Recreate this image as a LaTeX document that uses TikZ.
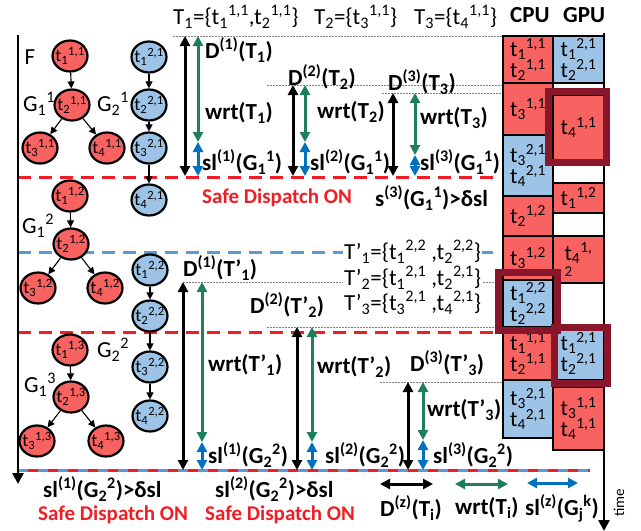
\documentclass[tikz,border=0pt]{standalone}
\usepackage{fontspec}
\setmainfont{Carlito}
\usetikzlibrary{arrows.meta,shapes.geometric}

\definecolor{taskred}{RGB}{248,98,96}
\definecolor{taskblue}{RGB}{157,195,230}
\definecolor{framered}{RGB}{137,22,42}
\definecolor{wrtgreen}{RGB}{30,128,90}
\definecolor{slblue}{RGB}{0,112,192}
\definecolor{cutblue}{RGB}{91,155,213}
\definecolor{safered}{RGB}{240,30,36}

\newcommand{\tsk}[2]{t\textsubscript{#1}\textsuperscript{#2}}
\newcommand{\ttask}[2]{\makebox[0pt]{\tsk{#1}{#2}}}

\tikzset{
	task/.style={ellipse, draw, line width=2.2pt, minimum width=35pt, minimum height=31pt, inner sep=0pt, font=\fontsize{18}{18}\selectfont},
	redtask/.style={task, fill=taskred},
	bluetask/.style={task, fill=taskblue},
	dep/.style={-{Triangle[width=7pt,length=7pt]}, line width=1.1pt},
	redslot/.style={draw, line width=2pt, fill=taskred},
	blueslot/.style={draw, line width=2pt, fill=taskblue},
	slottext/.style={align=center, inner sep=0pt, font=\fontsize{22}{21}\selectfont},
	lbl/.style={inner sep=0pt, anchor=west, font=\fontsize{23}{24}\selectfont\bfseries},
	safe/.style={lbl, text=safered, font=\fontsize{21}{22}\selectfont\bfseries},
	setlbl/.style={inner sep=0pt, anchor=west, font=\fontsize{23}{24}\selectfont},
	primelbl/.style={inner sep=1pt, anchor=west, fill=white, font=\fontsize{23}{23}\selectfont},
	glbl/.style={inner sep=0pt, font=\fontsize{23}{24}\selectfont},
	span/.style={{Triangle[width=10pt,length=10pt]}-{Triangle[width=10pt,length=10pt]}, line width=3pt},
	guide/.style={gray, line width=0.7pt, dash pattern=on 1.5pt off 1.5pt},
	redcut/.style={safered, line width=3pt, dash pattern=on 13pt off 8pt},
	bluecut/.style={cutblue, line width=3pt, dash pattern=on 13pt off 8pt},
	hilite/.style={draw=framered, line width=7pt}
}

\begin{document}
\begin{tikzpicture}[x=1pt,y=-1pt]
	\useasboundingbox (0,0) rectangle (641,531);

	%guide lines
	\draw[guide] (173,36) -- (503,36);
	\draw[guide] (267,85) -- (503,85);
	\draw[guide] (382,93) -- (553,93);
	\draw[guide] (183,282) -- (503,282);
	\draw[guide] (267,327) -- (503,327);
	\draw[guide] (380,382) -- (503,382);

	%cuts
	\draw[redcut] (18,177) -- (500,177);
	\draw[bluecut] (18,252) -- (500,252);
	\draw[redcut] (18,332) -- (500,332);
	\draw[cutblue, line width=3pt, dash pattern=on 10pt off 10pt] (18,470) -- (590,470);
	\draw[safered, line width=3pt, dash pattern=on 10pt off 10pt, dash phase=10pt] (18,470) -- (590,470);

	%axes
	\draw[line width=2.6pt, -{Triangle[width=11pt,length=11pt]}] (18,35) -- (18,484);
	\draw[line width=2.6pt, -{Triangle[width=11pt,length=11pt]}] (604,33) -- (604,531);
	\node[inner sep=0pt, rotate=90, font=\fontsize{15}{15}\selectfont] (timelbl) at (619,503) {time};

	%cpu column
	\draw[redslot] (503,36) rectangle (553,83) node[pos=.5, slottext] (cpuA) {\tsk{1}{1,1}\\\tsk{2}{1,1}};
	\draw[redslot] (503,83) rectangle (553,135) node[pos=.5, slottext] (cpuB) {\tsk{3}{1,1}};
	\draw[blueslot] (503,135) rectangle (553,196) node[pos=.5, slottext] (cpuC) {\tsk{3}{2,1}\\\tsk{4}{2,1}};
	\draw[redslot] (503,196) rectangle (553,236) node[pos=.5, slottext] (cpuD) {\tsk{2}{1,2}};
	\draw[redslot] (503,236) rectangle (553,280) node[pos=.5, slottext] (cpuE) {\tsk{3}{1,2}};
	\draw[blueslot] (503,280) rectangle (553,327) node[pos=.5, slottext] (cpuF) {\tsk{1}{2,2}\\\tsk{2}{2,2}};
	\draw[redslot] (503,327) rectangle (553,380) node[pos=.5, slottext] (cpuG) {\tsk{1}{1,1}\\\tsk{2}{1,1}};
	\draw[blueslot] (503,380) rectangle (553,438) node[pos=.5, slottext] (cpuH) {\tsk{3}{2,1}\\\tsk{4}{2,1}};

	%gpu column
	\draw[line width=2pt] (553,36) -- (553,450);
	\draw[blueslot] (553,36) rectangle (604,83) node[pos=.5, slottext] (gpuA) {\tsk{1}{2,1}\\\tsk{2}{2,1}};
	\draw[redslot] (553,95) rectangle (604,160) node[pos=.5, slottext] (gpuB) {\tsk{4}{1,1}};
	\draw[redslot] (553,183) rectangle (604,213) node[pos=.5, slottext] (gpuC) {\tsk{1}{1,2}};
	\draw[redslot] (553,236) rectangle (604,283) node[pos=.5, slottext, align=left] (gpuD) {\tsk{4}{1,}\\[-5pt]{\fontsize{15}{15}\selectfont 2}};
	\draw[blueslot] (553,327) rectangle (604,380) node[pos=.5, slottext] (gpuE) {\tsk{1}{2,1}\\\tsk{2}{2,1}};
	\draw[redslot] (553,387) rectangle (604,450) node[pos=.5, slottext] (gpuF) {\tsk{3}{1,1}\\\tsk{4}{1,1}};
	\draw[line width=2.6pt] (604,33) -- (604,450);

	%highlights
	\draw[hilite] (548.5,91.5) rectangle (606.5,162.5);
	\draw[hilite] (498.5,272.5) rectangle (557.5,330.5);
	\draw[hilite] (554.5,327.5) rectangle (607.5,383.5);

	\node[lbl] (cpuhead) at (510,15) {CPU};
	\node[lbl] (gpuhead) at (563,15) {GPU};

	%spans, first window
	\draw[span] (185,36) -- (185,176);
	\draw[span, wrtgreen] (198,36) -- (198,142);
	\draw[span, slblue] (198,142) -- (198,176);
	\draw[span] (293,85) -- (293,176);
	\draw[span, wrtgreen] (305,85) -- (305,142);
	\draw[span, slblue] (305,142) -- (305,176);
	\draw[span] (393,93) -- (393,176);
	\draw[span, wrtgreen] (415,93) -- (415,155);
	\draw[span, slblue] (415,155) -- (415,176);

	%spans, second window
	\draw[span] (183,282) -- (183,470);
	\draw[span, wrtgreen] (202,282) -- (202,442);
	\draw[span, slblue] (202,442) -- (202,470);
	\draw[span] (297,327) -- (297,470);
	\draw[span, wrtgreen] (312,327) -- (312,442);
	\draw[span, slblue] (312,442) -- (312,470);
	\draw[span] (408,382) -- (408,470);
	\draw[span, wrtgreen] (423,382) -- (423,440);
	\draw[span, slblue] (423,440) -- (423,470);

	%legend
	\draw[span] (380,484) -- (433,484);
	\draw[span, wrtgreen] (455,484) -- (508,484);
	\draw[span, slblue] (527,483) -- (578,483);
	\node[lbl] (legD) at (380,508) {D\textsuperscript{(z)}(T\textsubscript{i})};
	\node[lbl] (legW) at (455,508) {wrt(T\textsubscript{i})};
	\node[lbl] (legS) at (525,508) {sl\textsuperscript{(z)}(G\textsubscript{j}\textsuperscript{k})};

	%task graphs
	\node[glbl] (F) at (30,57) {F};
	\node[glbl] (gA) at (39,104) {G\textsubscript{1}\textsuperscript{1}};
	\node[glbl] (gB) at (113,104) {G\textsubscript{2}\textsuperscript{1}};
	\node[glbl] (gC) at (38,226) {G\textsubscript{1}\textsuperscript{2}};
	\node[glbl] (gD) at (113,350) {G\textsubscript{2}\textsuperscript{2}};
	\node[glbl] (gE) at (40,385) {G\textsubscript{1}\textsuperscript{3}};

	\node[redtask] (r11a) at (70,56) {\ttask{1}{1,1}};
	\node[redtask] (r11b) at (72,105) {\ttask{2}{1,1}};
	\node[redtask] (r11c) at (40,148) {\ttask{3}{1,1}};
	\node[redtask] (r11d) at (107,148) {\ttask{4}{1,1}};
	\draw[dep] (r11a) -- (r11b);
	\draw[dep] (r11b) -- (r11c);
	\draw[dep] (r11b) -- (r11d);

	\node[bluetask] (b21a) at (149,57) {\ttask{1}{2,1}};
	\node[bluetask] (b21b) at (149,105) {\ttask{2}{2,1}};
	\node[bluetask] (b21c) at (149,148) {\ttask{3}{2,1}};
	\node[bluetask] (b21d) at (149,200) {\ttask{4}{2,1}};
	\draw[dep] (b21a) -- (b21b);
	\draw[dep] (b21b) -- (b21c);
	\draw[dep] (b21c) -- (b21d);

	\node[redtask] (r12a) at (70,196) {\ttask{1}{1,2}};
	\node[redtask] (r12b) at (71,244) {\ttask{2}{1,2}};
	\node[redtask] (r12c) at (38,288) {\ttask{3}{1,2}};
	\node[redtask] (r12d) at (105,288) {\ttask{4}{1,2}};
	\draw[dep] (r12a) -- (r12b);
	\draw[dep] (r12b) -- (r12c);
	\draw[dep] (r12b) -- (r12d);

	\node[bluetask] (b22a) at (150,270) {\ttask{1}{2,2}};
	\node[bluetask] (b22b) at (150,316) {\ttask{2}{2,2}};
	\node[bluetask] (b22c) at (150,367) {\ttask{3}{2,2}};
	\node[bluetask] (b22d) at (150,416) {\ttask{4}{2,2}};
	\draw[dep] (b22a) -- (b22b);
	\draw[dep] (b22b) -- (b22c);
	\draw[dep] (b22c) -- (b22d);

	\node[redtask] (r13a) at (70,350) {\ttask{1}{1,3}};
	\node[redtask] (r13b) at (71,397) {\ttask{2}{1,3}};
	\node[redtask] (r13c) at (37,441) {\ttask{3}{1,3}};
	\node[redtask] (r13d) at (106,441) {\ttask{4}{1,3}};
	\draw[dep] (r13a) -- (r13b);
	\draw[dep] (r13b) -- (r13c);
	\draw[dep] (r13b) -- (r13d);

	%first window labels
	\node[setlbl] (setT1) at (173,17) {T\textsubscript{1}=\{\tsk{1}{1,1},\tsk{2}{1,1}\}};
	\node[setlbl] (setT2) at (314,17) {T\textsubscript{2}=\{\tsk{3}{1,1}\}};
	\node[setlbl] (setT3) at (414,17) {T\textsubscript{3}=\{\tsk{4}{1,1}\}};
	\node[lbl] (dT1) at (205,50) {D\textsuperscript{(1)}(T\textsubscript{1})};
	\node[lbl] (wT1) at (205,113) {wrt(T\textsubscript{1})};
	\node[lbl] (sT1) at (202,162) {sl\textsuperscript{(1)}(G\textsubscript{1}\textsuperscript{1})};
	\node[lbl] (dT2) at (288,77) {D\textsuperscript{(2)}(T\textsubscript{2})};
	\node[lbl] (wT2) at (317,112) {wrt(T\textsubscript{2})};
	\node[lbl] (sT2) at (310,162) {sl\textsuperscript{(2)}(G\textsubscript{1}\textsuperscript{1})};
	\node[lbl] (dT3) at (388,82) {D\textsuperscript{(3)}(T\textsubscript{3})};
	\node[lbl] (wT3) at (420,118) {wrt(T\textsubscript{3})};
	\node[lbl] (sT3) at (420,162) {sl\textsuperscript{(3)}(G\textsubscript{1}\textsuperscript{1})};
	\node[safe] (safeA) at (202,198) {Safe Dispatch ON};
	\node[lbl] (condA) at (375,198) {s\textsuperscript{(3)}(G\textsubscript{1}\textsuperscript{1})>δsl};

	%second window labels
	\node[primelbl] (setP1) at (343,252) {T'\textsubscript{1}=\{\tsk{1}{2,2} ,\tsk{2}{2,2}\}};
	\node[primelbl] (setP2) at (343,278) {T'\textsubscript{2}=\{\tsk{1}{2,1} ,\tsk{2}{2,1}\}};
	\node[primelbl] (setP3) at (343,303) {T'\textsubscript{3}=\{\tsk{3}{2,1} ,\tsk{4}{2,1}\}};
	\node[lbl] (dP1) at (183,268) {D\textsuperscript{(1)}(T'\textsubscript{1})};
	\node[lbl] (wP1) at (208,365) {wrt(T'\textsubscript{1})};
	\node[lbl] (sP1) at (208,455) {sl\textsuperscript{(1)}(G\textsubscript{2}\textsuperscript{2})};
	\node[lbl] (dP2) at (250,305) {D\textsuperscript{(2)}(T'\textsubscript{2})};
	\node[lbl] (wP2) at (317,367) {wrt(T'\textsubscript{2})};
	\node[lbl] (sP2) at (325,455) {sl\textsuperscript{(2)}(G\textsubscript{2}\textsuperscript{2})};
	\node[lbl] (dP3) at (410,363) {D\textsuperscript{(3)}(T'\textsubscript{3})};
	\node[lbl] (wP3) at (427,410) {wrt(T'\textsubscript{3})};
	\node[lbl] (sP3) at (433,455) {sl\textsuperscript{(3)}(G\textsubscript{2}\textsuperscript{2})};

	%bottom conditions
	\node[lbl] (condB) at (43,489) {sl\textsuperscript{(1)}(G\textsubscript{2}\textsuperscript{2})>δsl};
	\node[safe] (safeB) at (38,515) {Safe Dispatch ON};
	\node[lbl] (condC) at (215,489) {sl\textsuperscript{(2)}(G\textsubscript{2}\textsuperscript{2})>δsl};
	\node[safe] (safeC) at (205,515) {Safe Dispatch ON};
\end{tikzpicture}
\end{document}
